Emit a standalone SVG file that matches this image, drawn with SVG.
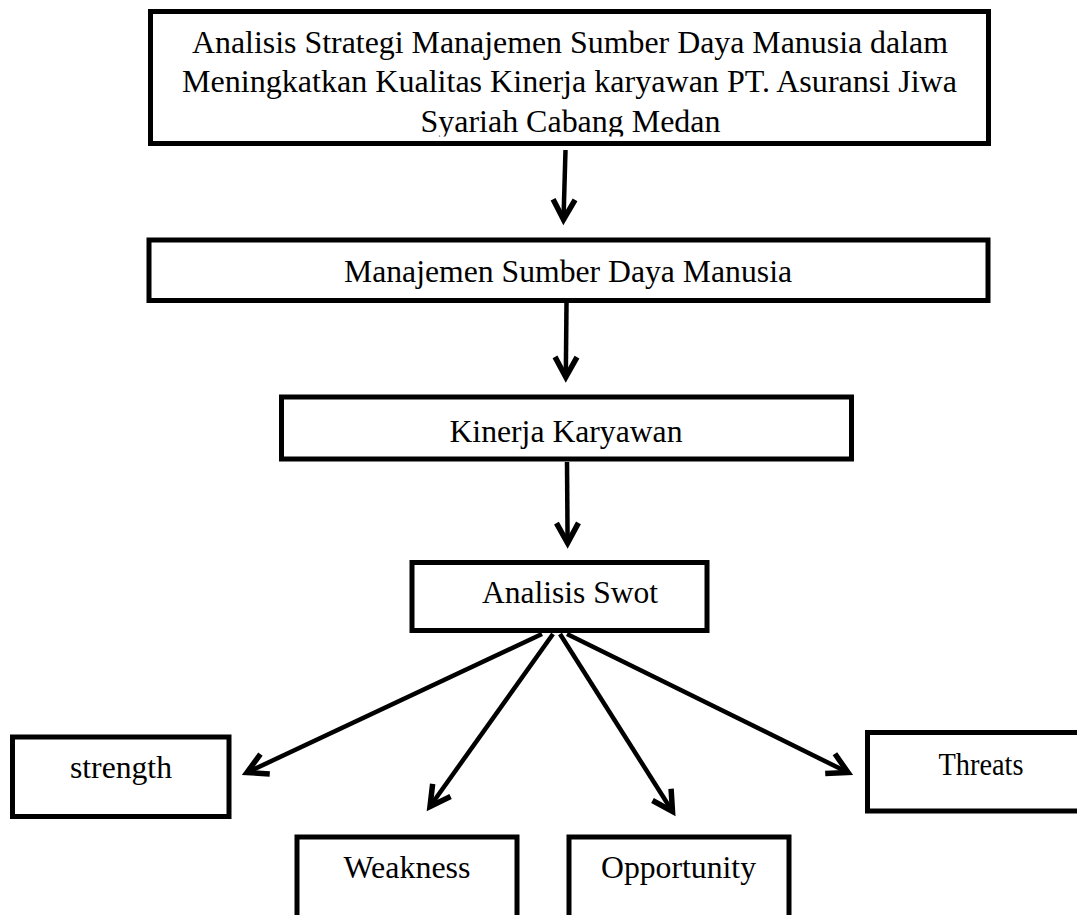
<svg xmlns="http://www.w3.org/2000/svg" width="1077" height="915" viewBox="0 0 1077 915">
  <style>
    .box { fill: #ffffff; stroke: #000000; stroke-width: 5; }
    .lbl { font-family: "Liberation Serif", "Times New Roman", serif; font-size: 32px; fill: #000000; text-anchor: middle; }
    .conn { stroke: #000000; stroke-width: 4.5; fill: none; marker-end: url(#arrow); }
  </style>
  <defs>
    <marker id="arrow" markerUnits="userSpaceOnUse" markerWidth="40" markerHeight="40" refX="0" refY="0" orient="auto" viewBox="-30 -20 40 40" overflow="visible">
      <path d="M -20 -11 L 0 0 L -20 11" fill="none" stroke="#000000" stroke-width="5.5" stroke-linejoin="miter" stroke-linecap="butt"/>
    </marker>
    <clipPath id="clipTop">
      <rect x="150" y="12" width="838" height="124.5"/>
    </clipPath>
  </defs>
  <rect width="1077" height="915" fill="#ffffff"/>

  <g id="node-title">
    <rect class="box" x="150.5" y="11.5" width="838" height="132"/>
    <g clip-path="url(#clipTop)">
      <text class="lbl" x="570" y="53" textLength="756" lengthAdjust="spacingAndGlyphs">Analisis Strategi Manajemen Sumber Daya Manusia dalam</text>
      <text class="lbl" x="569.5" y="92" textLength="775" lengthAdjust="spacingAndGlyphs">Meningkatkan Kualitas Kinerja karyawan PT. Asuransi Jiwa</text>
      <text class="lbl" x="570.5" y="132" textLength="300" lengthAdjust="spacingAndGlyphs">Syariah Cabang Medan</text>
    </g>
  </g>

  <g id="node-msdm">
    <rect class="box" x="149" y="240" width="839" height="60.5"/>
    <text class="lbl" x="568" y="282" textLength="448" lengthAdjust="spacingAndGlyphs">Manajemen Sumber Daya Manusia</text>
  </g>

  <g id="node-kinerja">
    <rect class="box" x="281.5" y="397" width="570" height="62"/>
    <text class="lbl" x="566" y="442" textLength="233" lengthAdjust="spacingAndGlyphs">Kinerja Karyawan</text>
  </g>

  <g id="node-swot">
    <rect class="box" x="412" y="562.5" width="295" height="68"/>
    <text class="lbl" x="570" y="603" textLength="176" lengthAdjust="spacingAndGlyphs">Analisis Swot</text>
  </g>

  <g id="node-strength">
    <rect class="box" x="12.5" y="737" width="216.5" height="79.5"/>
    <text class="lbl" x="121" y="778" textLength="102" lengthAdjust="spacingAndGlyphs">strength</text>
  </g>

  <g id="node-weakness">
    <rect class="box" x="297" y="837" width="220" height="100"/>
    <text class="lbl" x="407" y="878" textLength="127" lengthAdjust="spacingAndGlyphs">Weakness</text>
  </g>

  <g id="node-opportunity">
    <rect class="box" x="569" y="837" width="220" height="100"/>
    <text class="lbl" x="678.5" y="878" textLength="155" lengthAdjust="spacingAndGlyphs">Opportunity</text>
  </g>

  <g id="node-threats">
    <rect class="box" x="867.5" y="732.5" width="240" height="78.5"/>
    <text class="lbl" x="981" y="775" textLength="85" lengthAdjust="spacingAndGlyphs">Threats</text>
  </g>

  <g id="connectors">
    <line class="conn" x1="565.5" y1="150" x2="563.5" y2="219.5"/>
    <line class="conn" x1="566.5" y1="303" x2="565.8" y2="377"/>
    <line class="conn" x1="567" y1="462" x2="567.6" y2="543"/>
    <line class="conn" x1="542" y1="634" x2="247" y2="772.5"/>
    <line class="conn" x1="553" y1="634" x2="430" y2="806.5"/>
    <line class="conn" x1="560" y1="634" x2="672.5" y2="811.5"/>
    <line class="conn" x1="567" y1="634" x2="848" y2="772.5"/>
  </g>
</svg>
